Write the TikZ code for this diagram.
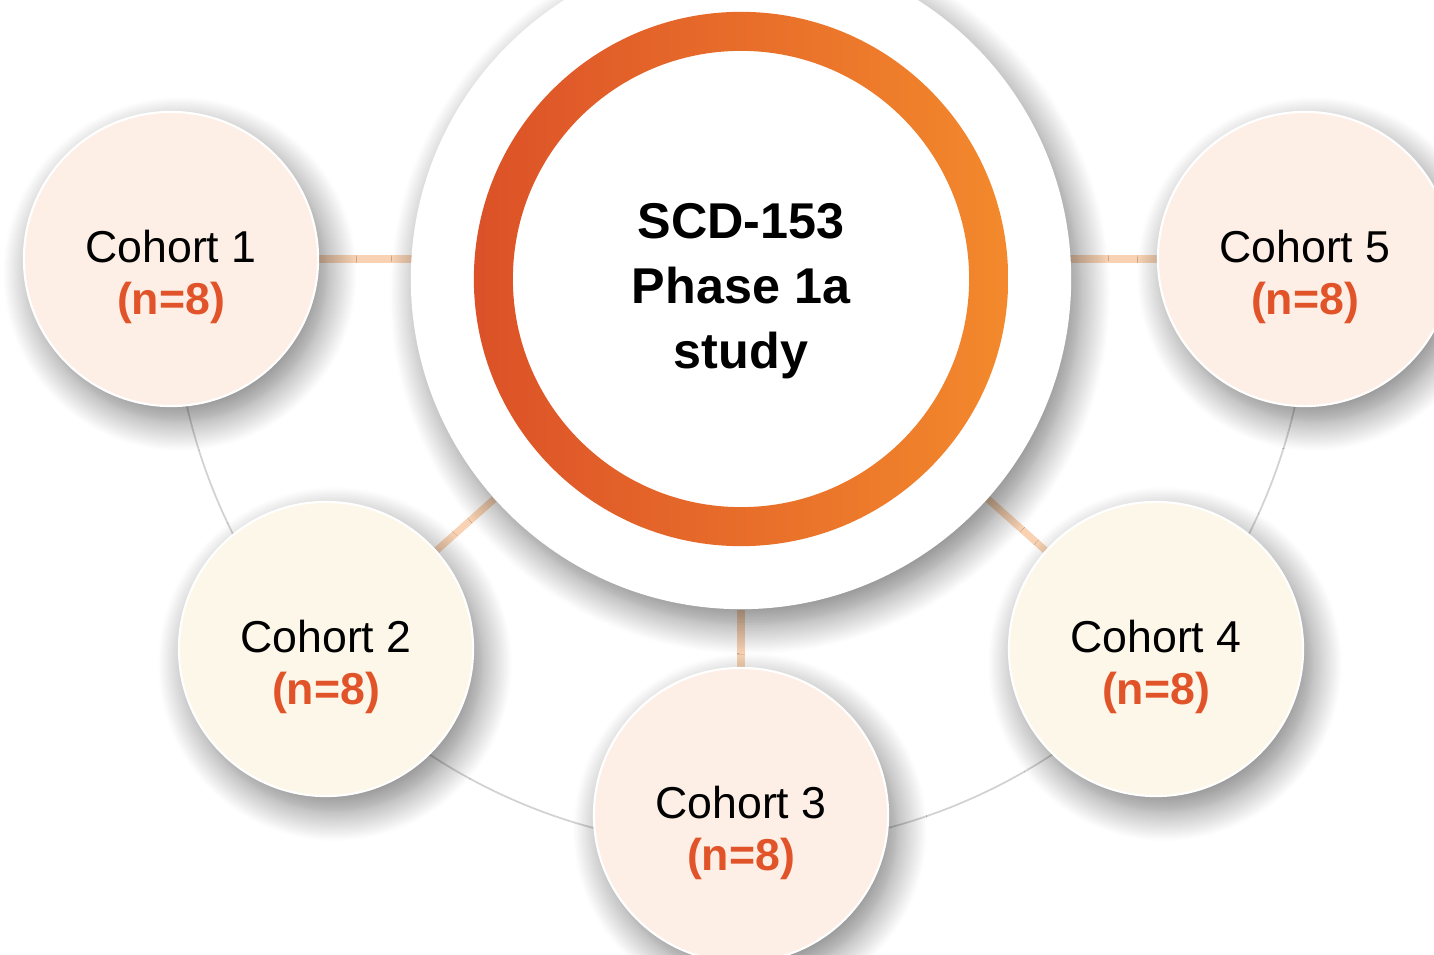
\documentclass[tikz,border=0pt]{standalone}
\usepackage{fontspec}
\setmainfont{Liberation Sans}
\usepackage{xcolor}
\usetikzlibrary{shadows.blur,backgrounds}

\definecolor{peach}{RGB}{253,239,230}
\definecolor{cream}{RGB}{252,247,232}
\definecolor{linkcol}{RGB}{248,210,179}
\definecolor{arcgrey}{RGB}{210,210,210}
\definecolor{numcol}{RGB}{225,84,42}
\definecolor{ringL}{RGB}{220,81,40}
\definecolor{ringR}{RGB}{243,137,44}

\tikzset{
  softshadow/.style={blur shadow={shadow xshift=0.09cm,shadow yshift=-0.15cm,
    shadow blur radius=0.3cm,shadow blur steps=16,shadow opacity=50}},
  cohort/.style={circle,minimum size=2.94cm,draw=white,line width=0.6pt,softshadow},
  cohortlabel/.style={align=center,font=\fontsize{12.7}{15}\selectfont,inner sep=0pt},
  link/.style={linkcol,line width=2pt},
}
\newcommand{\nval}{{\bfseries\color{numcol}(n=8)}}

\begin{document}
\begin{tikzpicture}[x=0.01cm,y=-0.01cm]
\useasboundingbox (0,0) rectangle (1434,955);
% central study circle
\node[circle,fill=white,minimum size=6.6cm,softshadow] (main) at (741,279) {};
\shade[left color=ringL,right color=ringR,even odd rule]
  (main.center) circle [radius=2.67cm] (main.center) circle [radius=2.28cm];
\node[align=center,font=\bfseries\fontsize{14.3}{18.5}\selectfont] (title) at (741,291) {SCD-153\\Phase 1a\\study};
% cohorts
\node[cohort,fill=peach] (c1) at (171,259) {};
\node[cohort,fill=cream] (c2) at (326,649) {};
\node[cohort,fill=peach] (c3) at (741,815) {};
\node[cohort,fill=cream] (c4) at (1156,649) {};
\node[cohort,fill=peach] (c5) at (1305,259) {};
\node[cohortlabel] (l1) at ([yshift=-0.18cm]c1.center) {Cohort 1\\\nval};
\node[cohortlabel] (l2) at ([yshift=-0.18cm]c2.center) {Cohort 2\\\nval};
\node[cohortlabel] (l3) at ([yshift=-0.18cm]c3.center) {Cohort 3\\\nval};
\node[cohortlabel] (l4) at ([yshift=-0.18cm]c4.center) {Cohort 4\\\nval};
\node[cohortlabel] (l5) at ([yshift=-0.18cm]c5.center) {Cohort 5\\\nval};
% connectors behind everything
\begin{pgfonlayer}{background}
\draw[arcgrey,line width=0.5pt] (main.center) ++(178:5.68cm) arc[start angle=178,end angle=362,radius=5.68cm];
\draw[link] (c1) -- (c1 -| main.center);
\draw[link] (c2) -- (main);
\draw[link] (c3) -- (main);
\draw[link] (c4) -- (main);
\draw[link] (c5) -- (c5 -| main.center);
\end{pgfonlayer}
\end{tikzpicture}
\end{document}
